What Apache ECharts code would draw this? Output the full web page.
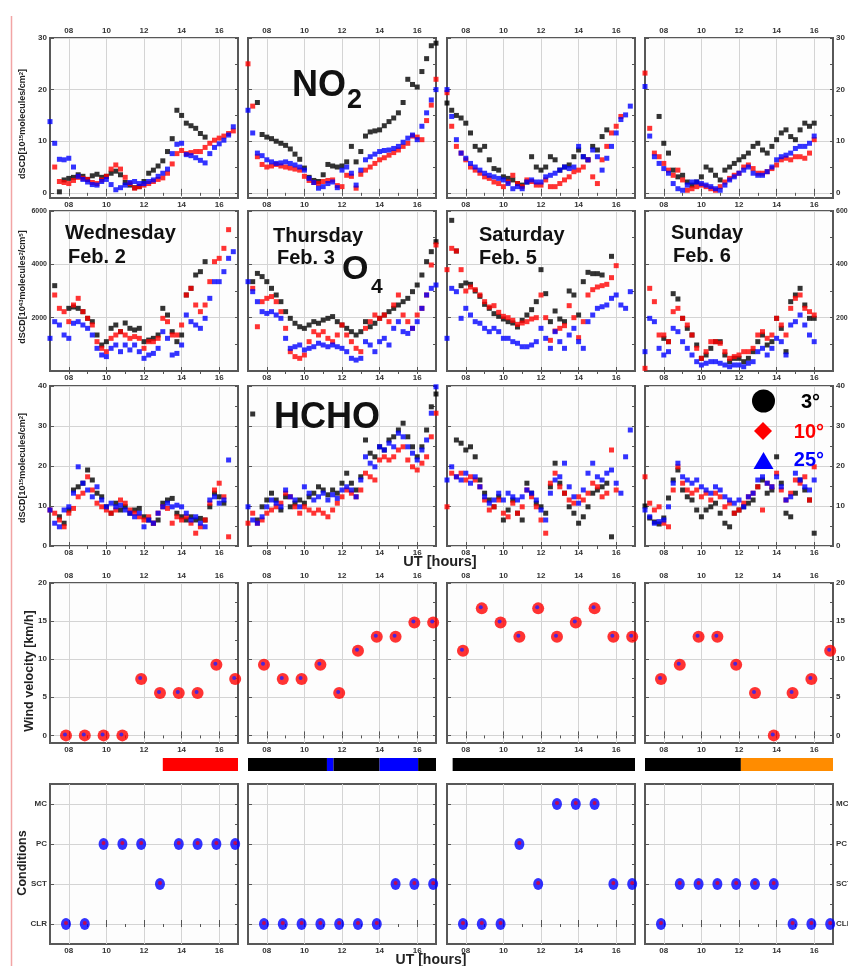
<!DOCTYPE html>
<html>
<head>
<meta charset="utf-8">
<title>NO2 / O4 / HCHO dSCD, wind and sky conditions</title>
<script src="https://cdn.jsdelivr.net/npm/echarts@6/dist/echarts.min.js"></script>
<style>
html, body { margin: 0; padding: 0; background: #fff; }
#chart { width: 848px; height: 966px; }
</style>
</head>
<body>
<div id="chart"></div>
<script>
var _ = null;
// measurement times (UT hours), one slot every 15 min
var hours = [7,7.25,7.5,7.75,8,8.25,8.5,8.75,9,9.25,9.5,9.75,10,10.25,10.5,10.75,11,11.25,11.5,11.75,12,12.25,12.5,12.75,13,13.25,13.5,13.75,14,14.25,14.5,14.75,15,15.25,15.5,15.75,16,16.25,16.5,16.75,17];
var labelHours = [8, 10, 12, 14, 16];
var tickHours = [8, 9, 10, 11, 12, 13, 14, 15, 16];
var obsHours = [7.85, 8.85, 9.85, 10.85, 11.85, 12.85, 13.85, 14.85, 15.85, 16.85];
var dayNames = ['Wednesday', 'Thursday', 'Saturday', 'Sunday'];
var dayDates = ['Feb. 2', 'Feb. 3', 'Feb. 5', 'Feb. 6'];
var angles = ['3°', '10°', '25°'];
var condNames = ['CLR', 'SCT', 'PC', 'MC'];

// NO2 dSCD [1e15 molec/cm2]
var no2Wed3  = [_,_,0.2,2.5,2.8,3.0,3.5,3.2,2.6,3.3,3.6,3.0,3.2,3.8,4.2,3.5,2.0,1.5,1.0,1.2,2.2,3.8,4.4,5.2,6.2,8.0,10.5,16.0,15.0,13.5,13.0,12.5,11.5,10.8,_,_,_,_,_,_,_];
var no2Wed10 = [_,5.0,2.2,2.0,1.8,2.4,3.0,2.8,2.6,2.0,1.8,2.5,3.2,4.6,5.4,4.6,3.0,1.8,0.9,1.2,1.5,1.8,2.2,2.6,2.9,3.8,5.6,7.6,8.2,7.6,7.8,8.0,8.0,8.8,9.6,10.2,10.6,11.0,11.5,12.0,_];
var no2Wed25 = [13.8,9.6,6.5,6.4,6.7,5.0,3.2,2.6,2.1,1.6,1.5,2.2,2.6,1.6,0.6,1.0,1.5,2.0,2.2,1.8,1.8,2.2,2.5,3.2,3.8,4.6,7.6,9.4,9.6,7.4,7.2,6.8,6.3,5.8,7.6,8.8,9.5,10.2,11.2,12.8,_];
var no2Thu3  = [_,_,17.5,11.3,10.8,10.5,10.0,9.6,9.2,8.5,7.5,6.5,4.8,3.0,2.4,2.2,3.5,5.5,5.2,5.0,5.2,6.0,9.0,6.0,8.0,11.0,11.8,12.0,12.2,13.0,13.8,14.5,15.5,17.5,22.0,21.0,20.5,23.5,26.0,28.5,29.0];
var no2Thu10 = [25.0,16.8,7.0,5.5,5.0,5.2,5.5,5.2,5.0,4.8,4.6,4.4,3.2,2.4,2.0,1.8,2.2,2.4,2.5,1.4,1.2,3.4,3.2,0.9,3.6,4.4,5.0,5.7,6.4,6.8,7.3,7.8,8.3,9.0,9.6,11.0,10.8,10.3,14.0,17.0,22.0];
var no2Thu25 = [16.0,11.6,7.7,7.2,6.4,6.0,5.7,5.8,6.0,5.7,5.4,5.0,4.4,2.8,2.0,0.9,1.2,1.8,2.1,1.0,4.4,5.0,3.8,1.5,4.4,6.4,7.0,7.5,8.0,8.2,8.3,8.6,9.0,9.8,10.6,11.2,10.3,12.9,15.5,18.0,20.0];
var no2Sat3  = [17.4,16.0,15.0,14.5,13.5,11.6,9.0,8.3,9.0,6.4,4.7,4.4,3.1,2.8,2.5,1.8,1.5,2.1,7.0,5.0,4.4,5.0,7.0,6.4,4.4,5.0,5.4,7.0,8.3,7.0,6.4,9.0,8.3,10.9,12.2,_,_,_,_,_,_];
var no2Sat10 = [19.4,12.9,9.0,7.7,6.4,5.0,4.4,3.8,3.1,2.8,2.1,1.8,1.2,2.1,3.4,1.8,1.2,2.5,2.2,1.5,1.5,2.5,1.2,1.2,1.8,2.5,3.1,4.1,4.4,5.0,6.4,3.1,1.8,6.4,9.0,11.6,12.9,14.8,_,_,_];
var no2Sat25 = [20.0,14.8,10.3,7.7,6.7,5.7,5.0,4.4,3.8,3.4,3.1,2.8,2.5,1.8,0.8,1.2,0.8,2.1,2.5,2.1,2.1,3.1,3.4,3.8,4.4,5.0,4.7,5.0,9.0,7.0,6.4,8.3,7.0,4.4,6.7,9.0,11.6,14.2,15.1,16.8,_];
var no2Sun3  = [_,_,_,14.8,9.6,7.7,4.4,3.1,3.4,2.1,1.5,2.1,3.1,5.0,4.4,3.4,2.5,4.4,5.0,5.7,6.4,7.0,7.7,9.0,9.6,8.3,7.7,9.0,10.3,11.6,12.2,10.9,10.3,12.2,13.5,12.9,13.5,_,_,_,_];
var no2Sun10 = [23.2,12.5,7.7,7.0,5.7,4.4,3.4,4.4,2.5,0.5,0.8,1.2,1.5,1.2,0.8,0.5,1.2,2.1,2.8,3.4,3.8,5.0,5.4,4.7,3.8,3.8,4.1,4.7,5.4,6.4,6.7,6.4,7.0,7.0,6.7,7.7,10.3,_,_,_,_];
var no2Sun25 = [20.6,11.0,7.0,5.7,4.7,3.8,1.8,0.8,0.5,1.5,2.1,2.1,1.8,1.5,1.2,0.8,0.5,1.5,2.5,3.1,3.8,4.4,5.0,3.8,3.4,3.4,4.1,5.0,6.4,7.0,7.3,7.7,8.6,9.0,9.0,9.6,11.0,_,_,_,_];

// O4 dSCD
var o4Wed3  = [_,3200,_,_,2350,2400,2350,2225,1975,1850,1350,975,1100,1600,1725,1475,1800,1600,1540,1600,1100,1160,1225,1350,2350,2100,1475,1100,1350,2850,3100,3600,3725,4100,_,_,_,_,_,_,_];
var o4Wed10 = [_,2850,2350,2225,1850,2475,2725,2225,1975,1725,1100,850,725,1225,1350,1475,1350,1225,1290,1225,850,1100,1100,1225,1975,1850,1350,1350,1725,2850,3100,2475,2225,2475,3350,4100,4225,4600,5300,_,_];
var o4Wed25 = [1225,1850,1725,1350,1225,1790,1850,1725,1600,1350,850,600,540,850,975,725,975,790,975,725,475,600,660,850,1475,1225,600,660,975,2100,1850,1725,1600,1975,2725,3350,3350,3725,4225,4475,_];
var o4Thu3  = [_,3350,3660,3540,3350,3100,2850,2600,2225,1975,1790,1660,1600,1725,1850,1790,1910,1975,2040,1850,1725,1600,1475,1350,1475,1850,1660,1790,1975,2100,2225,2350,2475,2600,2725,2975,3225,3600,4100,4475,4850];
var o4Thu10 = [_,3100,1660,2600,2725,2790,2600,2225,1600,725,540,475,600,1100,1475,1350,1475,1225,1100,1350,1725,1350,1100,850,725,1600,1850,2100,1975,2100,1850,2475,2850,2100,1850,1600,2100,2350,2850,3975,4725];
var o4Thu25 = [3350,2975,2600,2225,2160,2225,2100,1975,1225,850,910,975,790,850,910,1040,975,910,975,910,850,725,475,410,475,1100,975,725,1100,1225,975,1600,1850,1475,1410,1600,1850,2350,2850,3100,3225];
var o4Sat3  = [_,5650,4500,3200,3300,3250,3000,2800,2500,2350,2150,2050,1950,1850,1800,1650,1900,2100,2300,2600,3800,2900,1850,2250,1950,1850,3000,2850,2100,3350,3700,3650,3650,3600,_,4300,_,_,_,_,_];
var o4Sat10 = [3800,4600,4500,3800,3000,3150,3050,2850,2600,2400,2450,2200,2050,2000,1900,1750,1800,1850,1950,2000,2850,2000,1150,1500,1600,1700,2450,2000,1250,1850,2850,3050,3150,3200,3250,3500,3950,_,_,_,_];
var o4Sat25 = [1225,3100,2975,1975,2350,2100,1850,1790,1600,1475,1600,1475,1225,1225,1100,1040,910,910,975,1100,1600,1225,850,1475,1100,850,1350,1600,1100,850,1850,2100,2350,2410,2475,2725,2850,2475,2350,2975,_];
var o4Sun3  = [_,_,_,_,1225,1100,2900,2700,1975,1600,1350,975,475,600,850,1100,1100,600,350,475,475,350,475,725,1100,1350,975,1100,1975,1600,725,2600,2850,3100,2475,1975,1975,_,_,_,_];
var o4Sun10 = [100,3100,2600,1350,1350,1100,2225,2350,1975,1725,1350,850,475,725,1100,1100,1040,725,475,540,600,725,725,850,1350,1475,1225,1350,1975,1725,1350,2350,2725,2850,2350,2225,2100,_,_,_,_];
var o4Sun25 = [725,1975,1850,850,600,725,1600,1475,1100,850,600,350,225,290,350,350,290,225,160,225,225,160,290,350,725,850,600,850,1225,1100,600,1725,1850,2100,1725,1350,1100,_,_,_,_];

// HCHO dSCD [1e15 molec/cm2]
var hchoWed3  = [_,_,7.3,5.7,9.0,14.0,14.8,15.7,19.0,16.5,13.2,12.3,9.8,8.2,10.7,9.0,9.8,8.2,9.0,9.4,7.3,6.5,5.7,6.5,10.7,11.5,11.9,8.2,7.3,6.5,7.3,6.5,6.9,6.5,9.8,13.2,12.3,10.7,_,_,_];
var hchoWed10 = [9.0,8.2,6.5,4.8,8.2,9.4,12.3,13.2,17.3,14.0,10.7,9.8,9.0,8.2,9.0,11.5,10.7,9.0,8.2,7.3,6.5,7.3,5.7,8.2,9.8,9.4,5.7,7.3,6.5,7.3,5.7,3.2,4.8,6.5,10.7,14.0,15.7,12.3,2.3,_,_];
var hchoWed25 = [9.0,5.7,4.8,9.0,9.8,13.2,19.8,15.7,14.0,12.3,14.8,11.5,9.8,10.7,9.8,10.2,9.0,8.2,7.3,8.2,4.8,6.5,5.7,8.2,9.8,10.7,9.8,10.2,9.8,8.2,6.5,7.3,5.7,4.8,11.5,12.3,10.7,11.5,21.5,_,_];
var hchoThu3  = [_,33.0,6.5,9.8,11.5,13.2,11.5,9.0,12.3,9.8,10.7,11.5,10.7,12.3,13.2,14.8,14.0,12.8,14.0,13.2,15.7,18.2,15.7,14.0,17.3,26.5,23.2,22.3,24.8,24.0,26.5,27.3,29.0,30.7,27.3,24.8,22.3,24.8,29.0,34.8,38.0];
var hchoThu10 = [5.7,8.2,5.7,6.5,8.2,9.0,9.8,10.7,13.2,12.3,9.8,8.2,9.8,9.0,8.2,9.0,8.2,7.3,9.0,10.7,12.3,14.0,13.2,12.3,14.0,18.2,17.3,16.5,21.5,22.3,21.5,22.3,24.0,24.8,21.5,19.8,19.0,20.7,22.3,27.3,33.2];
var hchoThu25 = [9.8,6.5,5.7,7.3,9.8,11.5,10.7,9.8,14.0,12.3,11.5,9.8,14.8,13.2,11.5,12.3,13.2,11.5,12.8,11.9,14.0,14.8,14.0,12.3,16.5,22.3,20.7,19.8,24.8,24.0,25.7,24.8,28.2,27.3,24.8,23.2,21.5,24.0,26.5,33.2,39.8];
var hchoSat3  = [_,_,26.5,25.7,24.0,24.8,22.3,16.5,13.2,11.5,9.8,12.3,6.5,9.0,11.5,8.2,6.5,15.7,13.2,10.7,9.8,8.2,14.8,20.7,15.7,13.2,9.8,8.2,5.7,7.3,9.8,13.2,14.0,14.8,15.7,2.3,_,_,_,_,_];
var hchoSat10 = [9.8,18.2,17.3,18.2,16.5,17.3,16.5,14.8,11.5,9.0,9.8,11.5,8.2,7.3,10.7,8.2,9.8,14.0,12.3,9.8,6.5,3.2,15.7,18.2,14.8,13.2,11.5,10.7,12.3,11.5,13.2,15.7,14.8,12.3,13.2,24.0,14.0,_,_,_,_];
var hchoSat25 = [16.5,19.8,17.3,16.5,18.2,15.7,17.3,14.8,12.3,10.7,11.5,13.2,11.5,13.2,12.3,11.5,12.3,14.0,13.2,11.5,9.0,6.5,13.2,16.5,17.3,20.7,14.8,12.3,10.7,14.0,18.2,20.7,17.3,16.5,18.2,19.0,15.7,13.2,22.3,29.0,_];
var hchoSun3  = [10.0,7.0,6.0,5.5,7.0,12.0,16.5,19.0,14.0,12.3,11.5,9.0,7.3,9.0,9.8,10.7,8.2,5.7,4.8,8.2,9.0,9.8,10.7,11.5,14.8,16.5,13.2,14.0,22.3,15.7,8.2,7.3,13.2,16.5,14.0,11.5,3.2,_,_,_,_];
var hchoSun10 = [17.3,10.7,9.0,9.8,5.7,4.8,14.0,19.8,15.7,14.0,13.2,14.0,12.3,13.2,11.5,13.2,12.3,9.8,10.7,8.2,9.0,10.7,12.3,13.2,14.8,9.0,15.7,14.8,18.2,14.0,11.5,13.2,16.5,15.7,17.3,11.5,19.8,_,_,_,_];
var hchoSun25 = [9.0,7.3,5.7,6.1,6.5,9.8,15.7,20.7,17.3,16.5,15.7,16.5,14.8,14.0,13.2,14.8,14.0,12.3,11.5,10.7,11.5,9.8,12.3,13.2,16.5,17.3,15.7,14.8,17.3,14.8,11.5,12.3,18.2,16.5,14.8,14.0,16.5,_,_,_,_];

// wind velocity [km/h], hourly
var windWed = [0, 0, 0, 0, 7.41, 5.56, 5.56, 5.56, 9.26, 7.41];
var windThu = [9.26, 7.41, 7.41, 9.26, 5.56, 11.11, 12.96, 12.96, 14.82, 14.82];
var windSat = [11.11, 16.67, 14.82, 12.96, 16.67, 12.96, 14.82, 16.67, 12.96, 12.96];
var windSun = [7.41, 9.26, 12.96, 12.96, 9.26, 5.56, 0, 5.56, 7.41, 11.11];

// sky conditions, hourly
var condWed = ['CLR','CLR','PC','PC','PC','SCT','PC','PC','PC','PC'];
var condThu = ['CLR','CLR','CLR','CLR','CLR','CLR','CLR','SCT','SCT','SCT'];
var condSat = ['CLR','CLR','CLR','PC','SCT','MC','MC','MC','SCT','SCT'];
var condSun = ['CLR','SCT','SCT','SCT','SCT','SCT','SCT','CLR','CLR','CLR'];

// coloured strip between wind and conditions: [from, to, code]
var stripWed = [[13, 17, 'r']];
var stripThu = [[7, 11.2, 'k'], [11.2, 11.55, 'b'], [11.55, 14, 'k'], [14, 16.05, 'b'], [16.05, 17, 'k']];
var stripSat = [[7.3, 17, 'k']];
var stripSun = [[7, 12.1, 'k'], [12.1, 17, 'o']];

var FONT = '"Liberation Sans", Arial, Helvetica, sans-serif';
var SERIES_COLORS = ['#000000', '#ff0000', '#0000ff'];
var STRIP_COLORS = { k: '#000000', r: '#ff0000', b: '#0000ff', o: '#ff8c00' };
var GRID_LEFT = [50, 248, 447, 645];
var GRID_W = 188;
var GRID_TOP = [38, 211, 386, 583, 784];
var GRID_H = 160;

var panels = [
    [[no2Wed3, no2Wed10, no2Wed25], [no2Thu3, no2Thu10, no2Thu25], [no2Sat3, no2Sat10, no2Sat25], [no2Sun3, no2Sun10, no2Sun25]],
    [[o4Wed3, o4Wed10, o4Wed25], [o4Thu3, o4Thu10, o4Thu25], [o4Sat3, o4Sat10, o4Sat25], [o4Sun3, o4Sun10, o4Sun25]],
    [[hchoWed3, hchoWed10, hchoWed25], [hchoThu3, hchoThu10, hchoThu25], [hchoSat3, hchoSat10, hchoSat25], [hchoSun3, hchoSun10, hchoSun25]]
];
var winds = [windWed, windThu, windSat, windSun];
var conds = [condWed, condThu, condSat, condSun];
var strips = [stripWed, stripThu, stripSat, stripSun];

// y axis setup per row
var rowAxes = [
    { min: -1, max: 30, major: [0, 10, 20, 30], ticks: [0, 5, 10, 15, 20, 25, 30], labels: [0, 10, 20, 30] },
    { min: 0, max: 6000, major: [2000, 4000, 6000], ticks: [1000, 2000, 3000, 4000, 5000, 6000], labels: [2000, 4000, 6000], small: true },
    { min: 0, max: 40, major: [0, 10, 20, 30, 40], ticks: [0, 5, 10, 15, 20, 25, 30, 35, 40], labels: [0, 10, 20, 30, 40] },
    { min: -1, max: 20, major: [0, 5, 10, 15, 20], ticks: [0, 2.5, 5, 7.5, 10, 12.5, 15, 17.5, 20], labels: [0, 5, 10, 15, 20] },
    { min: -0.5, max: 3.5, major: [0, 1, 2, 3], ticks: [0, 0.5, 1, 1.5, 2, 2.5, 3], labels: [0, 1, 2, 3], names: condNames }
];

function pad(v) { return v < 10 ? '0' + v : '' + v; }

function toPoints(xs, vals) {
    var out = [];
    for (var i = 0; i < vals.length && i < xs.length; i++) {
        if (vals[i] != null) out.push([xs[i], vals[i]]);
    }
    return out;
}

function tickLabel(extra) {
    var o = { fontSize: 8, fontWeight: 'bold', color: '#333', fontFamily: FONT, margin: 3 };
    for (var k in extra) o[k] = extra[k];
    return o;
}

var grid = [], xAxis = [], yAxis = [], series = [];

for (var r = 0; r < 5; r++) {
    for (var c = 0; c < 4; c++) {
        var gi = grid.length;
        var cfg = rowAxes[r];
        grid.push({
            left: GRID_LEFT[c], top: GRID_TOP[r], width: GRID_W, height: GRID_H,
            containLabel: false, outerBoundsMode: 'none',
            show: true, borderColor: '#585858', borderWidth: 2, backgroundColor: '#fdfdfd'
        });
        // bottom axis carries the grid lines, top axis the hourly ticks
        xAxis.push({
            gridIndex: gi, type: 'value', min: 7, max: 17, position: 'bottom',
            axisLine: { show: false },
            axisTick: { show: true, inside: true, length: 4, customValues: labelHours, lineStyle: { color: '#555' } },
            axisLabel: tickLabel({ customValues: labelHours, formatter: pad }),
            splitLine: { show: true, lineStyle: { color: '#d4d4d4', width: 1 } }
        });
        xAxis.push({
            gridIndex: gi, type: 'value', min: 7, max: 17, position: 'top',
            axisLine: { show: false },
            axisTick: { show: true, inside: true, length: 3, customValues: tickHours, lineStyle: { color: '#555' } },
            axisLabel: tickLabel({ show: r === 0 || r === 3, customValues: labelHours, formatter: pad }),
            splitLine: { show: false }
        });
        var yfmt = (function (cf) {
            return function (v) { return cf.names ? cf.names[Math.round(v)] : '' + v; };
        })(cfg);
        yAxis.push({
            gridIndex: gi, type: 'value', min: cfg.min, max: cfg.max, position: 'left',
            axisLine: { show: false },
            axisTick: { show: true, inside: true, length: 4, customValues: cfg.major, lineStyle: { color: '#555' } },
            axisLabel: tickLabel({ show: c === 0, customValues: cfg.labels, formatter: yfmt, fontSize: cfg.small ? 7 : 8 }),
            splitLine: { show: true, lineStyle: { color: '#d4d4d4', width: 1 } }
        });
        yAxis.push({
            gridIndex: gi, type: 'value', min: cfg.min, max: cfg.max, position: 'right',
            axisLine: { show: false },
            axisTick: { show: true, inside: true, length: 3, customValues: cfg.ticks, lineStyle: { color: '#555' } },
            axisLabel: tickLabel({ show: c === 3, customValues: cfg.labels, formatter: yfmt, fontSize: cfg.small ? 7 : 8 }),
            splitLine: { show: false }
        });

        if (r < 3) {
            panels[r][c].forEach(function (vals, k) {
                series.push({
                    type: 'scatter', name: angles[k], xAxisIndex: 2 * gi, yAxisIndex: 2 * gi,
                    symbol: 'rect', symbolSize: [5, 5], silent: true,
                    itemStyle: { color: SERIES_COLORS[k] },
                    data: toPoints(hours, vals)
                });
            });
        } else if (r === 3) {
            var wp = toPoints(obsHours, winds[c]);
            series.push({
                type: 'scatter', xAxisIndex: 2 * gi, yAxisIndex: 2 * gi, symbol: 'circle', symbolSize: 12,
                itemStyle: { color: '#ff0000' }, data: wp, silent: true
            });
            series.push({
                type: 'scatter', xAxisIndex: 2 * gi, yAxisIndex: 2 * gi, symbol: 'circle', symbolSize: 4,
                symbolOffset: [-1, -1], itemStyle: { color: '#2020ff' }, data: wp, silent: true, z: 3
            });
        } else {
            var cp = toPoints(obsHours, conds[c].map(function (s) { return condNames.indexOf(s); }));
            series.push({
                type: 'scatter', xAxisIndex: 2 * gi, yAxisIndex: 2 * gi, symbol: 'circle', symbolSize: [10, 12],
                itemStyle: { color: '#0000ff' }, data: cp, silent: true
            });
            series.push({
                type: 'scatter', xAxisIndex: 2 * gi, yAxisIndex: 2 * gi, symbol: 'circle', symbolSize: 4,
                symbolOffset: [0, -1], itemStyle: { color: '#e0002a' }, data: cp, silent: true, z: 3
            });
        }
    }
}

// the coloured strip row
for (var c2 = 0; c2 < 4; c2++) {
    var sg = grid.length;
    grid.push({ left: GRID_LEFT[c2], top: 758, width: GRID_W, height: 13, show: false, containLabel: false, outerBoundsMode: 'none' });
    xAxis.push({ gridIndex: sg, type: 'value', min: 7, max: 17, show: false });
    yAxis.push({ gridIndex: sg, type: 'value', min: 0, max: 1, show: false });
    series.push({
        type: 'custom', xAxisIndex: xAxis.length - 1, yAxisIndex: yAxis.length - 1, silent: true,
        data: strips[c2].map(function (s) { return { value: [s[0], s[1]], itemStyle: { color: STRIP_COLORS[s[2]] } }; }),
        renderItem: function (params, api) {
            var a = api.coord([api.value(0), 1]);
            var b = api.coord([api.value(1), 0]);
            return { type: 'rect', shape: { x: a[0], y: a[1], width: b[0] - a[0], height: b[1] - a[1] }, style: { fill: api.visual('color') } };
        }
    });
}

function text(x, y, str, size, color, align) {
    return {
        type: 'text', x: x, y: y, z: 50,
        style: { text: str, fontSize: size, fontWeight: 'bold', fontFamily: FONT, fill: color || '#111', align: align || 'left', verticalAlign: 'middle' }
    };
}
function vtext(x, y, rich) {
    return {
        type: 'text', x: x, y: y, rotation: Math.PI / 2, z: 50,
        style: {
            text: rich, align: 'center', verticalAlign: 'middle',
            rich: {
                a: { fontSize: 9, fontWeight: 'bold', fontFamily: FONT, fill: '#222' },
                s: { fontSize: 6, fontWeight: 'bold', fontFamily: FONT, fill: '#222', verticalAlign: 'top' },
                big: { fontSize: 12.5, fontWeight: 'bold', fontFamily: FONT, fill: '#222' }
            }
        }
    };
}

var graphic = [
    { type: 'line', shape: { x1: 11.5, y1: 16, x2: 11.5, y2: 966 }, style: { stroke: '#f2a5a5', lineWidth: 1.5 } },
    vtext(23, 124, '{a|dSCD[10}{s|15}{a|molecules/cm}{s|2}{a|]}'),
    vtext(23, 287, '{a|dSCD[10}{s|43}{a|molecules}{s|2}{a|/cm}{s|5}{a|]}'),
    vtext(23, 468, '{a|dSCD[10}{s|15}{a|molecules/cm}{s|2}{a|]}'),
    vtext(30, 671, '{big|Wind velocity [km/h]}'),
    vtext(23, 863, '{big|Conditions}'),
    text(292, 86, 'NO', 36),
    text(347, 101, '2', 27),
    text(342, 270, 'O', 34),
    text(371, 287, '4', 21),
    text(274, 418, 'HCHO', 36),
    text(440, 562, 'UT [hours]', 14.5, '#222', 'center'),
    text(431, 960, 'UT [hours]', 14, '#222', 'center'),
    { type: 'circle', shape: { cx: 763.5, cy: 401, r: 11.5 }, style: { fill: '#000' }, z: 50 },
    { type: 'polygon', shape: { points: [[754, 431], [763, 422], [772, 431], [763, 440]] }, style: { fill: '#ff0000' }, z: 50 },
    { type: 'polygon', shape: { points: [[753.5, 469], [763.5, 452], [773.5, 469]] }, style: { fill: '#0000ff' }, z: 50 },
    text(820, 402, angles[0], 20, '#000', 'right'),
    text(824, 432, angles[1], 20, '#ff0000', 'right'),
    text(824, 460, angles[2], 20, '#0000ff', 'right')
];
var dayX = [65, 273, 479, 671], dayY = [233, 236, 235, 233];
var dateX = [68, 277, 479, 673], dateY = [257, 258, 258, 256];
for (var d = 0; d < 4; d++) {
    graphic.push(text(dayX[d], dayY[d], dayNames[d], 20));
    graphic.push(text(dateX[d], dateY[d], dayDates[d], 20));
}

var chart = echarts.init(document.getElementById('chart'), null, { renderer: 'canvas' });
chart.setOption({
    backgroundColor: '#ffffff',
    animation: false,
    textStyle: { fontFamily: FONT },
    grid: grid,
    xAxis: xAxis,
    yAxis: yAxis,
    series: series,
    graphic: graphic
});
</script>
</body>
</html>
